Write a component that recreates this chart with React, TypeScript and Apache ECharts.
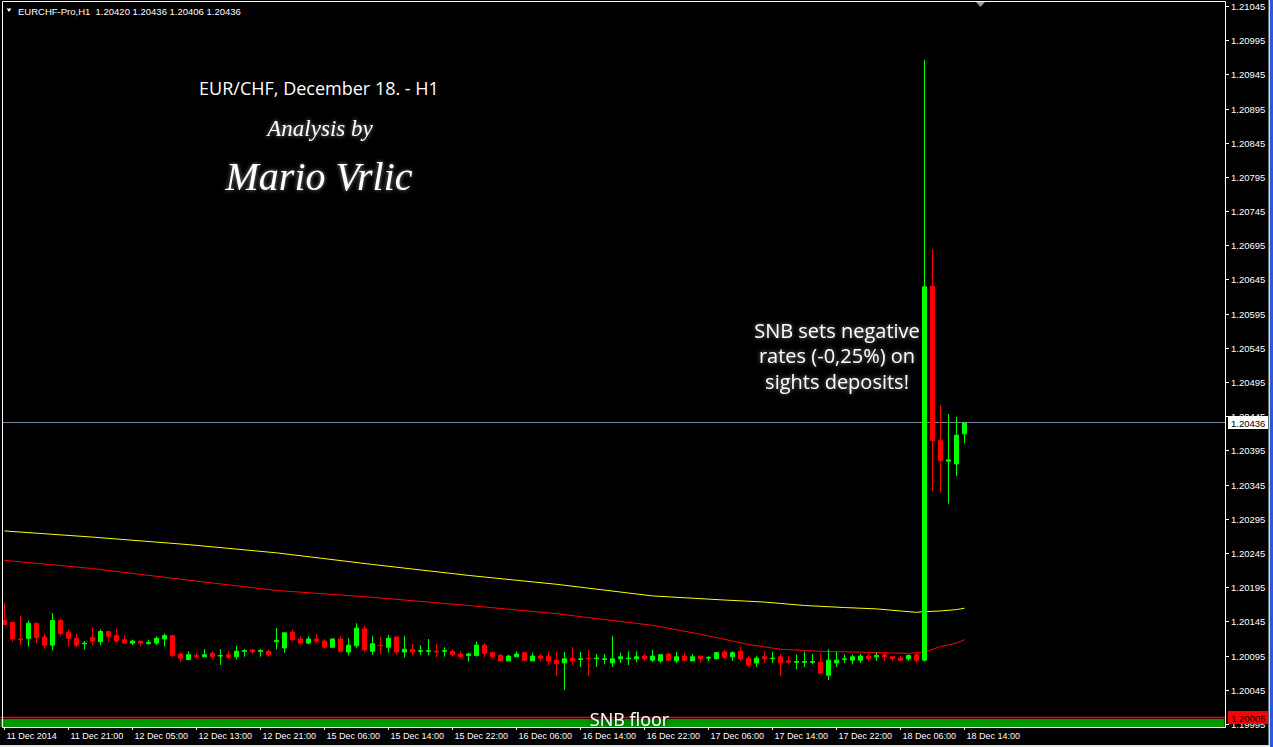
import React, { useEffect, useRef } from "react";
import * as echarts from "echarts";

const symbolName = "EURCHF-Pro,H1";

const xTickLabels = [
  "11 Dec 2014", "11 Dec 21:00", "12 Dec 05:00", "12 Dec 13:00", "12 Dec 21:00",
  "15 Dec 06:00", "15 Dec 14:00", "15 Dec 22:00", "16 Dec 06:00", "16 Dec 14:00",
  "16 Dec 22:00", "17 Dec 06:00", "17 Dec 14:00", "17 Dec 22:00", "18 Dec 06:00",
  "18 Dec 14:00",
];
const barsPerTick = 8;
const slotCount = 153;

const opens = [
  1.20147, 1.20144, 1.20120, 1.20121, 1.20143, 1.20123, 1.20111, 1.20147, 1.20130, 1.20121,
  1.20113, 1.20122, 1.20116, 1.20131, 1.20125, 1.20119, 1.20114, 1.20117, 1.20113, 1.20114,
  1.20120, 1.20125, 1.20098, 1.20090, 1.20096, 1.20094, 1.20099, 1.20095, 1.20097, 1.20094,
  1.20102, 1.20104, 1.20102, 1.20102, 1.20116, 1.20107, 1.20130, 1.20120, 1.20114, 1.20120,
  1.20117, 1.20108, 1.20120, 1.20101, 1.20110, 1.20135, 1.20102, 1.20111, 1.20108, 1.20123,
  1.20101, 1.20105, 1.20102, 1.20102, 1.20102, 1.20102, 1.20102, 1.20098, 1.20096, 1.20096,
  1.20111, 1.20100, 1.20096, 1.20088, 1.20094, 1.20100, 1.20088, 1.20095, 1.20095, 1.20089,
  1.20085, 1.20092, 1.20090, 1.20092, 1.20091, 1.20090, 1.20085, 1.20091, 1.20091, 1.20091,
  1.20095, 1.20089, 1.20088, 1.20098, 1.20088, 1.20095, 1.20088, 1.20095, 1.20092, 1.20091,
  1.20101, 1.20094, 1.20102, 1.20092, 1.20085, 1.20094, 1.20091, 1.20094, 1.20088, 1.20086,
  1.20086, 1.20086, 1.20086, 1.20067, 1.20085, 1.20090, 1.20089, 1.20089, 1.20095, 1.20094,
  1.20097, 1.20094, 1.20092, 1.20091, 1.20097, 1.20089, 1.20636, 1.20410, 1.20380, 1.20376,
  1.20420,
];
const highs = [
  1.20172, 1.20145, 1.20153, 1.20147, 1.20144, 1.20128, 1.20158, 1.20150, 1.20134, 1.20128,
  1.20117, 1.20136, 1.20134, 1.20131, 1.20135, 1.20125, 1.20119, 1.20117, 1.20119, 1.20124,
  1.20128, 1.20126, 1.20100, 1.20102, 1.20100, 1.20105, 1.20102, 1.20105, 1.20102, 1.20110,
  1.20105, 1.20105, 1.20105, 1.20105, 1.20136, 1.20130, 1.20134, 1.20124, 1.20124, 1.20127,
  1.20120, 1.20121, 1.20124, 1.20121, 1.20143, 1.20139, 1.20124, 1.20123, 1.20126, 1.20123,
  1.20124, 1.20113, 1.20111, 1.20120, 1.20113, 1.20108, 1.20105, 1.20102, 1.20100, 1.20116,
  1.20114, 1.20102, 1.20098, 1.20097, 1.20102, 1.20100, 1.20100, 1.20098, 1.20102, 1.20101,
  1.20101, 1.20108, 1.20101, 1.20104, 1.20098, 1.20098, 1.20124, 1.20100, 1.20102, 1.20102,
  1.20098, 1.20104, 1.20098, 1.20100, 1.20101, 1.20100, 1.20098, 1.20095, 1.20095, 1.20101,
  1.20104, 1.20102, 1.20108, 1.20095, 1.20095, 1.20102, 1.20101, 1.20098, 1.20095, 1.20097,
  1.20102, 1.20098, 1.20098, 1.20105, 1.20101, 1.20097, 1.20097, 1.20098, 1.20098, 1.20100,
  1.20100, 1.20095, 1.20095, 1.20097, 1.20100, 1.20967, 1.20690, 1.20462, 1.20449, 1.20445,
  1.20436,
];
const lows = [
  1.20141, 1.20116, 1.20111, 1.20109, 1.20114, 1.20106, 1.20103, 1.20125, 1.20109, 1.20108,
  1.20105, 1.20111, 1.20111, 1.20116, 1.20115, 1.20113, 1.20111, 1.20109, 1.20113, 1.20111,
  1.20109, 1.20093, 1.20086, 1.20089, 1.20091, 1.20094, 1.20091, 1.20082, 1.20091, 1.20090,
  1.20094, 1.20098, 1.20094, 1.20094, 1.20105, 1.20100, 1.20116, 1.20112, 1.20113, 1.20114,
  1.20106, 1.20107, 1.20101, 1.20096, 1.20107, 1.20101, 1.20097, 1.20098, 1.20100, 1.20097,
  1.20093, 1.20096, 1.20097, 1.20096, 1.20093, 1.20094, 1.20094, 1.20091, 1.20087, 1.20094,
  1.20093, 1.20091, 1.20088, 1.20088, 1.20094, 1.20088, 1.20088, 1.20088, 1.20082, 1.20066,
  1.20045, 1.20082, 1.20079, 1.20066, 1.20079, 1.20083, 1.20079, 1.20085, 1.20082, 1.20086,
  1.20088, 1.20086, 1.20085, 1.20088, 1.20085, 1.20088, 1.20088, 1.20085, 1.20088, 1.20091,
  1.20091, 1.20088, 1.20088, 1.20079, 1.20079, 1.20085, 1.20085, 1.20066, 1.20083, 1.20076,
  1.20079, 1.20083, 1.20070, 1.20060, 1.20079, 1.20085, 1.20083, 1.20085, 1.20088, 1.20088,
  1.20088, 1.20088, 1.20088, 1.20088, 1.20085, 1.20087, 1.20336, 1.20334, 1.20318, 1.20358,
  1.20406,
];
const closes = [
  1.20141, 1.20120, 1.20119, 1.20143, 1.20122, 1.20111, 1.20147, 1.20128, 1.20121, 1.20111,
  1.20114, 1.20117, 1.20131, 1.20124, 1.20117, 1.20114, 1.20117, 1.20114, 1.20115, 1.20121,
  1.20125, 1.20096, 1.20092, 1.20097, 1.20094, 1.20097, 1.20094, 1.20096, 1.20093, 1.20102,
  1.20103, 1.20101, 1.20103, 1.20097, 1.20118, 1.20129, 1.20119, 1.20114, 1.20120, 1.20117,
  1.20108, 1.20120, 1.20102, 1.20111, 1.20136, 1.20104, 1.20113, 1.20110, 1.20121, 1.20101,
  1.20105, 1.20101, 1.20103, 1.20103, 1.20101, 1.20103, 1.20097, 1.20094, 1.20098, 1.20111,
  1.20099, 1.20094, 1.20088, 1.20095, 1.20098, 1.20089, 1.20095, 1.20092, 1.20088, 1.20084,
  1.20091, 1.20088, 1.20091, 1.20091, 1.20092, 1.20091, 1.20091, 1.20094, 1.20092, 1.20094,
  1.20091, 1.20095, 1.20097, 1.20089, 1.20094, 1.20089, 1.20094, 1.20091, 1.20093, 1.20100,
  1.20093, 1.20100, 1.20091, 1.20082, 1.20092, 1.20091, 1.20092, 1.20085, 1.20086, 1.20087,
  1.20087, 1.20087, 1.20070, 1.20089, 1.20089, 1.20091, 1.20094, 1.20095, 1.20091, 1.20096,
  1.20094, 1.20091, 1.20089, 1.20096, 1.20089, 1.20635, 1.20410, 1.20381, 1.20382, 1.20418,
  1.20436,
];

// [bar index, value]
const yellowMA: [number, number][] = [
  [0, 1.20278], [11, 1.20269], [23, 1.20258], [34, 1.20246], [46, 1.20229], [58, 1.20213],
  [69, 1.20200], [81, 1.20183], [90, 1.20177], [95, 1.20174], [100, 1.20169], [105, 1.20166],
  [109, 1.20164], [112, 1.20161], [114, 1.20159], [115, 1.20160], [117, 1.20161], [119, 1.20163],
  [120, 1.20165],
];
const redMA: [number, number][] = [
  [0, 1.20235], [11, 1.20223], [23, 1.20206], [34, 1.20191], [46, 1.20181], [58, 1.20169],
  [69, 1.20157], [81, 1.20140], [87, 1.20127], [91, 1.20117], [93, 1.20112], [97, 1.20105],
  [102, 1.20102], [106, 1.20101], [113, 1.20099], [115, 1.20101], [117, 1.20109], [119, 1.20114],
  [120, 1.20119],
];

const floorPrice = 1.20005;
const floorBandTop = 1.20003;
const priceMin = 1.199913;
const priceMax = 1.21053;
const axisLabelBase = 1.19995;
const axisLabelStep = 0.0005;
const axisLabelSteps = 21;

const titleLine = "EUR/CHF, December 18. - H1";
const authorLines = ["Analysis by", "Mario Vrlic"];
const noteLines = ["SNB sets negative", "rates (-0,25%) on", "sights deposits!"];
const floorLabel = "SNB floor";

const W = 1273;
const H = 747;
const frameLeft = 2.5;
const frameRight = 1225.5;
const uiFont = '"Liberation Sans", Arial, sans-serif';

export default function App() {
  const ref = useRef<HTMLDivElement>(null);

  useEffect(() => {
    if (!ref.current) return;
    const chart = echarts.init(ref.current, undefined, { renderer: "svg", width: W, height: H });
    const n = closes.length;
    const last = n - 1;
    const lastClose = closes[last];
    const categories = Array.from({ length: slotCount }, (_, i) => String(i));
    const candleData = opens.map((o, i) => [o, closes[i], lows[i], highs[i]]);
    const isTick = (i: number) => i % barsPerTick === 0 && i / barsPerTick < xTickLabels.length;
    const header = `${symbolName}  ${opens[last].toFixed(5)} ${highs[last].toFixed(5)} ${lows[last].toFixed(5)} ${lastClose.toFixed(5)}`;

    const glow = {
      textShadowColor: "rgba(255,255,255,0.55)",
      textShadowBlur: 4,
    };
    const centered = { textAlign: "center", align: "center", textVerticalAlign: "middle", verticalAlign: "middle" };

    chart.setOption({
      animation: false,
      backgroundColor: "#000000",
      grid: [{ left: 0.5, top: 1, width: 1224, height: 726, containLabel: false }],
      xAxis: [
        {
          type: "category",
          data: categories,
          boundaryGap: true,
          axisLine: { show: false, onZero: false },
          splitLine: { show: false },
          axisTick: {
            show: true,
            interval: (i: number) => isTick(i),
            alignWithLabel: true,
            length: 3,
            lineStyle: { color: "#ffffff", width: 1 },
          },
          axisLabel: {
            show: true,
            interval: (i: number) => isTick(i),
            formatter: (_v: string, i: number) => (isTick(i) ? xTickLabels[i / barsPerTick] : ""),
            color: "#ffffff",
            fontSize: 9,
            fontFamily: uiFont,
            align: "left",
            margin: 4,
            padding: [0, 0, 0, 2],
          },
        },
      ],
      yAxis: [
        {
          type: "value",
          min: priceMin,
          max: priceMax,
          show: true,
          axisLine: { show: false, onZero: false },
          axisTick: { show: false },
          minorTick: { show: false },
          axisLabel: { show: false },
          splitLine: { show: false },
          minorSplitLine: { show: false },
        },
      ],
      series: [
        {
          type: "line",
          data: yellowMA,
          showSymbol: false,
          symbol: "none",
          lineStyle: { color: "#ffff00", width: 1 },
          silent: true,
          z: 2,
        },
        {
          type: "line",
          data: redMA,
          showSymbol: false,
          symbol: "none",
          lineStyle: { color: "#ff0000", width: 1 },
          silent: true,
          z: 2,
        },
        {
          type: "candlestick",
          data: candleData,
          barWidth: 5,
          silent: true,
          z: 3,
          itemStyle: {
            color: "#00ff00",
            color0: "#ff0000",
            borderColor: "#00ff00",
            borderColor0: "#ff0000",
            borderColorDoji: "#00ff00",
            borderWidth: 1,
          },
          markArea: {
            silent: true,
            itemStyle: { color: "#009a00" },
            label: {
              show: true,
              position: "inside",
              offset: [17, -3.5],
              color: "#ffffff",
              fontSize: 18,
              fontFamily: '"Open Sans", sans-serif',
              textShadowColor: "#000000",
              textShadowBlur: 6,
            },
            data: [[{ name: floorLabel, yAxis: priceMin }, { yAxis: floorBandTop }]],
          },
        },
      ],
    });

    const py = (v: number) => chart.convertToPixel({ yAxisIndex: 0 }, v) as number;
    const crisp = (y: number) => Math.round(y - 0.5) + 0.5;

    const axisGraphics: any[] = [];
    for (let k = 0; k <= axisLabelSteps; k++) {
      const v = axisLabelBase + k * axisLabelStep;
      const y = crisp(py(v));
      axisGraphics.push({
        type: "line",
        id: `ytick${k}`,
        z: 40,
        silent: true,
        shape: { x1: frameRight, y1: y, x2: frameRight + 3.5, y2: y },
        style: { stroke: "#ffffff", lineWidth: 1 },
      });
      axisGraphics.push({
        type: "text",
        id: `ylab${k}`,
        z: 40,
        silent: true,
        x: 1231,
        y,
        style: { text: v.toFixed(5), fill: "#ffffff", font: `9.5px ${uiFont}`, textVerticalAlign: "middle", verticalAlign: "middle" },
      });
    }

    const priceMarker = (id: string, value: number, lineColor: string, lineWidth: number, boxColor: string, fromX: number) => {
      const y = crisp(py(value));
      return [
        {
          type: "line",
          id: `${id}Line`,
          z: 1,
          silent: true,
          shape: { x1: fromX, y1: y, x2: frameRight, y2: y },
          style: { stroke: lineColor, lineWidth },
        },
        {
          type: "rect",
          id: `${id}Box`,
          z: 45,
          silent: true,
          shape: { x: 1228, y: y - 6.5, width: 40, height: 13 },
          style: { fill: boxColor },
        },
        {
          type: "text",
          id: `${id}Text`,
          z: 46,
          silent: true,
          x: 1231,
          y: y + 0.5,
          style: { text: value.toFixed(5), fill: "#000000", font: `9.5px ${uiFont}`, textVerticalAlign: "middle", verticalAlign: "middle" },
        },
      ];
    };

    chart.setOption({
      graphic: [
        {
          type: "rect",
          id: "leftCover",
          z: 48,
          silent: true,
          shape: { x: 0, y: 0, width: frameLeft, height: 714 },
          style: { fill: "#000000" },
        },
        ...axisGraphics,
        ...priceMarker("cur", lastClose, "#778899", 1, "#ffffff", frameLeft),
        ...priceMarker("floor", floorPrice, "#ff0000", 1.5, "#ff0000", 0),
        {
          type: "rect",
          id: "frame",
          z: 50,
          silent: true,
          shape: { x: frameLeft, y: 1.5, width: frameRight - frameLeft, height: 726 },
          style: { fill: "none", stroke: "#ffffff", lineWidth: 1 },
        },
        {
          type: "polygon",
          id: "hdrTri",
          z: 50,
          silent: true,
          shape: { points: [[6.5, 8.5], [11.5, 8.5], [9, 12]] },
          style: { fill: "#ffffff" },
        },
        {
          type: "text",
          id: "hdr",
          z: 50,
          silent: true,
          x: 18,
          y: 11,
          style: { text: header, fill: "#ffffff", font: `9.5px ${uiFont}`, textVerticalAlign: "middle", verticalAlign: "middle" },
        },
        {
          type: "polygon",
          id: "shift",
          z: 50,
          silent: true,
          shape: { points: [[976, 2], [985, 2], [980.5, 7]] },
          style: { fill: "#9a9a9a" },
        },
        {
          type: "text",
          id: "title",
          z: 50,
          silent: true,
          x: 319,
          y: 88,
          style: { text: titleLine, fill: "#ffffff", font: '18px "Open Sans", sans-serif', ...centered },
        },
        {
          type: "text",
          id: "author0",
          z: 50,
          silent: true,
          x: 320,
          y: 128,
          style: { text: authorLines[0], fill: "#ffffff", font: 'italic 23px "Liberation Serif", serif', ...centered, ...glow },
        },
        {
          type: "text",
          id: "author1",
          z: 50,
          silent: true,
          x: 319,
          y: 176,
          style: { text: authorLines[1], fill: "#ffffff", font: 'italic 40px "Liberation Serif", serif', ...centered, ...glow },
        },
        ...noteLines.map((t, i) => ({
          type: "text",
          id: `note${i}`,
          z: 50,
          silent: true,
          x: 837,
          y: 330 + i * 25.5,
          style: { text: t, fill: "#ffffff", font: '20px "Open Sans", sans-serif', ...centered, ...glow },
        })),
        {
          type: "rect",
          id: "edgeW",
          z: 60,
          silent: true,
          shape: { x: 1268.5, y: 0, width: 1.5, height: H },
          style: { fill: "#d8d8d8" },
        },
        {
          type: "rect",
          id: "edgeB",
          z: 60,
          silent: true,
          shape: { x: 1270, y: 0, width: 3, height: H },
          style: { fill: "#2a5bd7" },
        },
        {
          type: "rect",
          id: "edgeBottom",
          z: 60,
          silent: true,
          shape: { x: 0, y: 745, width: 1270, height: 2 },
          style: { fill: "#e8e8e8" },
        },
      ],
    });

    return () => chart.dispose();
  }, []);

  return (
    <div
      ref={ref}
      style={{ position: "fixed", left: 0, top: 0, width: W, height: H, background: "#000" }}
    />
  );
}
